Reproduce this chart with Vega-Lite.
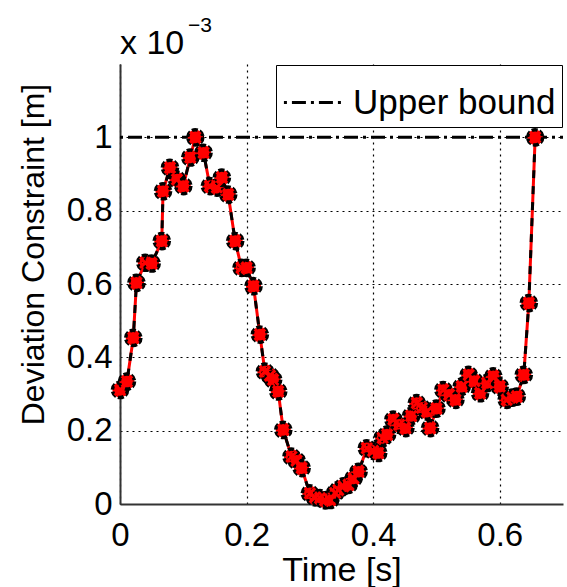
{
  "$schema": "https://vega.github.io/schema/vega-lite/v6.json",
  "width": 443,
  "height": 440,
  "autosize": {"type": "none"},
  "padding": {"left": 120, "top": 64, "right": 4, "bottom": 83},
  "config": {
    "font": "Liberation Sans",
    "view": {"stroke": null},
    "axis": {
      "grid": true,
      "gridColor": "black",
      "gridDash": [2, 4],
      "gridWidth": 1.2,
      "gridOpacity": 1,
      "domainColor": "#333333",
      "domainWidth": 2,
      "ticks": false,
      "labelFlush": false,
      "labelFont": "Liberation Sans",
      "labelFontSize": 33,
      "labelColor": "black",
      "titleFont": "Liberation Sans",
      "titleFontWeight": "normal",
      "titleColor": "black"
    }
  },
  "datasets": {
    "series": [
      {"t": 0.000, "v": 0.311}, {"t": 0.011, "v": 0.334}, {"t": 0.021, "v": 0.453}, {"t": 0.026, "v": 0.603},
      {"t": 0.040, "v": 0.658}, {"t": 0.050, "v": 0.656}, {"t": 0.066, "v": 0.717}, {"t": 0.068, "v": 0.853},
      {"t": 0.079, "v": 0.917}, {"t": 0.090, "v": 0.885}, {"t": 0.100, "v": 0.867}, {"t": 0.111, "v": 0.945},
      {"t": 0.119, "v": 1.000}, {"t": 0.132, "v": 0.958}, {"t": 0.142, "v": 0.867}, {"t": 0.153, "v": 0.863},
      {"t": 0.161, "v": 0.890}, {"t": 0.171, "v": 0.844}, {"t": 0.182, "v": 0.717}, {"t": 0.192, "v": 0.644},
      {"t": 0.200, "v": 0.644}, {"t": 0.211, "v": 0.594}, {"t": 0.221, "v": 0.462}, {"t": 0.229, "v": 0.361},
      {"t": 0.237, "v": 0.350}, {"t": 0.242, "v": 0.339}, {"t": 0.250, "v": 0.307}, {"t": 0.258, "v": 0.202},
      {"t": 0.271, "v": 0.129}, {"t": 0.279, "v": 0.118}, {"t": 0.287, "v": 0.098}, {"t": 0.300, "v": 0.029},
      {"t": 0.308, "v": 0.018}, {"t": 0.316, "v": 0.016}, {"t": 0.324, "v": 0.010}, {"t": 0.332, "v": 0.011},
      {"t": 0.340, "v": 0.030}, {"t": 0.345, "v": 0.038}, {"t": 0.353, "v": 0.048}, {"t": 0.361, "v": 0.052},
      {"t": 0.369, "v": 0.070}, {"t": 0.377, "v": 0.088}, {"t": 0.390, "v": 0.152}, {"t": 0.400, "v": 0.145},
      {"t": 0.408, "v": 0.139}, {"t": 0.415, "v": 0.180}, {"t": 0.422, "v": 0.189}, {"t": 0.432, "v": 0.230},
      {"t": 0.441, "v": 0.216}, {"t": 0.451, "v": 0.207}, {"t": 0.460, "v": 0.240}, {"t": 0.469, "v": 0.275},
      {"t": 0.477, "v": 0.262}, {"t": 0.485, "v": 0.252}, {"t": 0.490, "v": 0.207}, {"t": 0.500, "v": 0.260},
      {"t": 0.511, "v": 0.311}, {"t": 0.520, "v": 0.298}, {"t": 0.530, "v": 0.284}, {"t": 0.540, "v": 0.320},
      {"t": 0.551, "v": 0.352}, {"t": 0.560, "v": 0.335}, {"t": 0.569, "v": 0.302}, {"t": 0.580, "v": 0.330},
      {"t": 0.590, "v": 0.348}, {"t": 0.600, "v": 0.320}, {"t": 0.611, "v": 0.284}, {"t": 0.620, "v": 0.290},
      {"t": 0.627, "v": 0.293}, {"t": 0.638, "v": 0.352}, {"t": 0.646, "v": 0.548}, {"t": 0.656, "v": 1.000}
    ],
    "bound": [{"t0": 0, "t1": 0.7, "v": 1, "name": "Upper bound"}],
    "base": [{"t": 0, "v": 1.227, "label": "x 10"}],
    "expo": [{"t": 0.1075, "v": 1.287, "label": "−3"}]
  },
  "encoding": {
    "x": {
      "field": "t", "type": "quantitative",
      "scale": {"domain": [0, 0.7], "nice": false, "zero": false},
      "axis": {"values": [0, 0.2, 0.4, 0.6], "format": "~g", "title": "Time [s]", "titleFontSize": 34, "labelPadding": 15, "titlePadding": 1}
    },
    "y": {
      "field": "v", "type": "quantitative",
      "scale": {"domain": [0, 1.2], "nice": false, "zero": false},
      "axis": {"values": [0, 0.2, 0.4, 0.6, 0.8, 1], "format": "~g", "title": "Deviation Constraint [m]", "titleFontSize": 32, "labelPadding": 8, "titleX": -70, "titleY": 190}
    }
  },
  "layer": [
    {
      "data": {"name": "bound"},
      "mark": {"type": "rule", "strokeWidth": 3, "color": "black"},
      "encoding": {
        "x": {"field": "t0", "type": "quantitative"},
        "x2": {"field": "t1"},
        "y": {"field": "v", "type": "quantitative"},
        "strokeDash": {
          "field": "name", "type": "nominal",
          "scale": {"range": [[3, 5, 14, 5]]},
          "legend": {
            "orient": "top-right", "offset": 1, "title": null,
            "fillColor": "white", "strokeColor": "black", "padding": 6,
            "labelFontSize": 35, "labelFont": "Liberation Sans", "labelColor": "black", "labelOffset": 8, "labelLimit": 500,
            "symbolType": "stroke", "symbolSize": 3500, "symbolStrokeWidth": 3, "symbolStrokeColor": "black"
          }
        }
      }
    },
    {
      "data": {"name": "series"},
      "mark": {"type": "line", "color": "#ff0000", "strokeWidth": 3},
      "encoding": {}
    },
    {
      "data": {"name": "series"},
      "mark": {"type": "line", "color": "black", "strokeWidth": 3, "strokeDash": [8, 8]},
      "encoding": {}
    },
    {
      "data": {"name": "series"},
      "mark": {"type": "point", "shape": "circle", "filled": true, "fill": "#ff0000", "stroke": "black", "strokeWidth": 3.5, "strokeDash": [6, 2], "size": 230, "opacity": 1},
      "encoding": {}
    },
    {
      "data": {"name": "series"},
      "mark": {"type": "point", "shape": "M-1,-1L1,1M1,-1L-1,1", "filled": false, "stroke": "#ff0000", "strokeWidth": 3, "size": 110, "opacity": 1},
      "encoding": {}
    },
    {
      "data": {"name": "base"},
      "mark": {"type": "text", "align": "left", "baseline": "alphabetic", "fontSize": 34, "color": "black"},
      "encoding": {"text": {"field": "label"}}
    },
    {
      "data": {"name": "expo"},
      "mark": {"type": "text", "align": "left", "baseline": "alphabetic", "fontSize": 21, "color": "black"},
      "encoding": {"text": {"field": "label"}}
    }
  ]
}
